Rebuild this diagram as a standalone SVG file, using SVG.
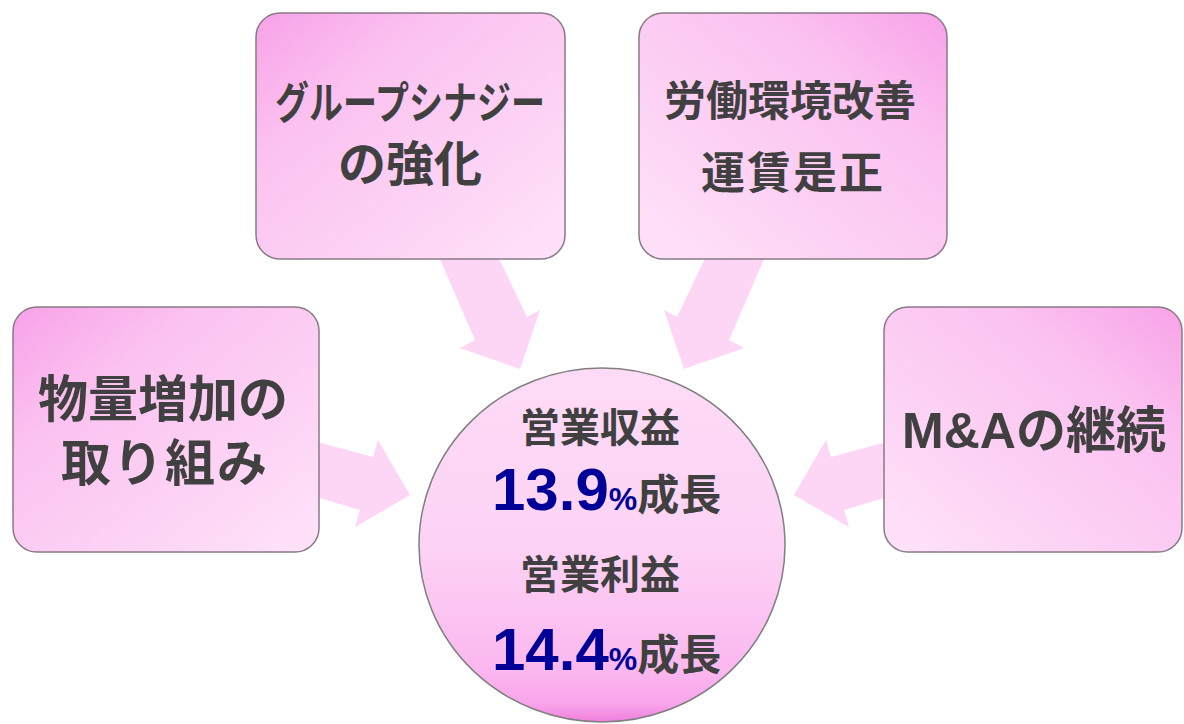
<svg xmlns="http://www.w3.org/2000/svg" width="1184" height="724" viewBox="0 0 1184 724">
<defs>
<linearGradient id="gTL" x1="0" y1="0" x2="1" y2="1">
<stop offset="0" stop-color="#f8a2e8"/>
<stop offset="0.3" stop-color="#fbc2f0"/>
<stop offset="1" stop-color="#fee3f9"/>
</linearGradient>
<linearGradient id="gTR" x1="1" y1="0" x2="0" y2="1">
<stop offset="0" stop-color="#f8a2e8"/>
<stop offset="0.3" stop-color="#fbc2f0"/>
<stop offset="1" stop-color="#fee3f9"/>
</linearGradient>
<linearGradient id="gC" x1="0" y1="0" x2="0" y2="1">
<stop offset="0" stop-color="#fddbf6"/>
<stop offset="0.5" stop-color="#fdd3f5"/>
<stop offset="0.85" stop-color="#fbb8ef"/>
<stop offset="0.95" stop-color="#f9a4ea"/>
<stop offset="1" stop-color="#ef7edb"/>
</linearGradient>
<style>
.box{stroke:#8a7a86;stroke-width:1.5}
.arr{fill:#fdd6f5}
.t{font-family:"Liberation Sans","Noto Sans CJK JP",sans-serif;font-weight:bold;fill:#404040;text-anchor:middle}
.n{font-family:"Liberation Sans",Arial,sans-serif;font-weight:bold;fill:#000099}
.c{font-family:"Noto Sans CJK JP",sans-serif;font-weight:bold;fill:#404040}
</style>
</defs>
<g id="connectors">
<polygon class="arr" points="436,250 495,250 527,317 540,310 520,369 460,348 475,340"/>
<polygon class="arr" points="768,250 709,250 677,317 664,310 684,369 744,348 729,340"/>
<polygon class="arr" points="310,440 373,457 378,440 410,495 355,527 360,510 310,495"/>
<polygon class="arr" points="894,440 831,457 826,440 794,495 849,527 844,510 894,495"/>
</g>
<g id="node-synergy">
<rect class="box" x="256" y="13" width="309" height="246" rx="24" fill="url(#gTL)"/>
<text class="t" x="410" y="119" font-size="44" textLength="270" lengthAdjust="spacingAndGlyphs">グループシナジー</text>
<text class="t" x="410" y="181" font-size="48">の強化</text>
</g>
<g id="node-labor">
<rect class="box" x="639" y="13" width="308" height="246" rx="24" fill="url(#gTR)"/>
<text class="t" x="790" y="116" font-size="42">労働環境改善</text>
<text class="t" x="793" y="189" font-size="44" letter-spacing="2">運賃是正</text>
</g>
<g id="node-volume">
<rect class="box" x="13" y="307" width="306" height="245" rx="24" fill="url(#gTL)"/>
<text class="t" x="163" y="417" font-size="50">物量増加の</text>
<text class="t" x="165" y="481" font-size="50" letter-spacing="2">取り組み</text>
</g>
<g id="node-ma">
<rect class="box" x="884" y="307" width="298" height="245" rx="24" fill="url(#gTR)"/>
<text class="t" x="1034" y="448" font-size="50">M&amp;Aの継続</text>
</g>
<g id="node-center">
<ellipse cx="602" cy="545" rx="183" ry="177" fill="url(#gC)" stroke="#808080" stroke-width="1.5"/>
<text class="t" x="600" y="442" font-size="40">営業収益</text>
<text x="492" y="510"><tspan class="n" font-size="60">13.9</tspan><tspan class="n" font-size="32">%</tspan><tspan class="c" font-size="42">成長</tspan></text>
<text class="t" x="600" y="589" font-size="40">営業利益</text>
<text x="492" y="670"><tspan class="n" font-size="60">14.4</tspan><tspan class="n" font-size="32">%</tspan><tspan class="c" font-size="42">成長</tspan></text>
</g>
</svg>
